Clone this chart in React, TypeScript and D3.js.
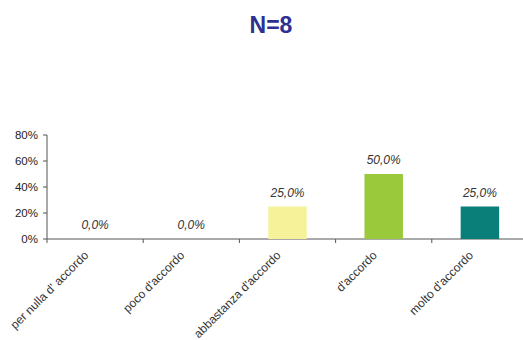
import React from "react";
import * as d3 from "d3";

const categories = [
  "per nulla d' accordo",
  "poco d'accordo",
  "abbastanza d'accordo",
  "d'accordo",
  "molto d'accordo",
];
const values = [0, 0, 25, 50, 25];
const barColors = ["#F5F29A", "#F5F29A", "#F5F29A", "#9ACA3C", "#0A7F7A"];
const yTicks = [0, 20, 40, 60, 80];

const W = 523;
const H = 340;
const left = 47;
const right = 528;
const base = 239;
const top = 135;

export default function App() {
  const x = d3.scaleBand<string>().domain(categories).range([left, right]).paddingInner(0.6).paddingOuter(0.3);
  const y = d3.scaleLinear().domain([0, 80]).range([base, top]);
  const step = x.step();
  const font = "'Liberation Sans', Arial, sans-serif";
  const boundaries = d3.range(categories.length + 1).map((i) => left + i * step);

  return (
    <svg width={W} height={H} style={{ position: "absolute", left: 0, top: 0 }} fontFamily={font}>
      <rect width={W} height={H} fill="#fff" />
      <text x={271} y={33} textAnchor="middle" fontSize={23} fontWeight="bold" fill="#2E3192">
        N=8
      </text>
      {/* y axis */}
      <line x1={left} x2={left} y1={top} y2={base} stroke="#555" />
      {yTicks.map((t) => (
        <g key={t}>
          <line x1={left - 4} x2={left} y1={y(t)} y2={y(t)} stroke="#555" />
          <text x={left - 9} y={y(t) + 4} textAnchor="end" fontSize={11.5} fill="#222">
            {t}%
          </text>
        </g>
      ))}
      {/* x axis */}
      <line x1={left} x2={right} y1={base} y2={base} stroke="#555" />
      {boundaries.map((b, i) => (
        <line key={i} x1={b} x2={b} y1={base} y2={base + 4} stroke="#555" />
      ))}
      {categories.map((c, i) => {
        const cx = (x(c) as number) + x.bandwidth() / 2;
        return (
          <g key={c}>
            {values[i] > 0 && (
              <rect
                x={x(c)}
                y={y(values[i])}
                width={x.bandwidth()}
                height={base - y(values[i])}
                fill={barColors[i]}
              />
            )}
            <text
              x={cx}
              y={y(values[i]) - 10}
              textAnchor="middle"
              fontSize={12}
              fontStyle="italic"
              fill="#333"
            >
              {values[i].toFixed(1).replace(".", ",")}%
            </text>
            <text
              transform={`translate(${cx - 6},${base + 17}) rotate(-45)`}
              textAnchor="end"
              fontSize={12}
              fill="#333"
            >
              {c}
            </text>
          </g>
        );
      })}
    </svg>
  );
}
